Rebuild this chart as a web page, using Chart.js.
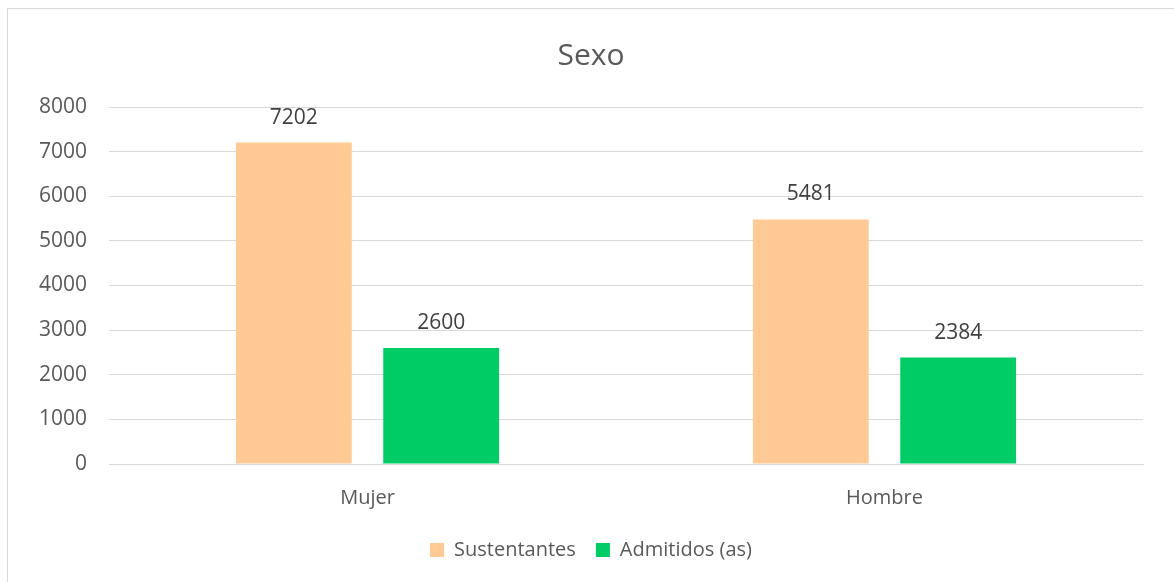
<!DOCTYPE html>
<html lang="es">
<head>
    <meta charset="UTF-8">
    <title>Sexo</title>
    <script src="https://cdn.jsdelivr.net/npm/chart.js"></script>
    <style>
        body {
            margin: 0;
            background: #fff;
            overflow: hidden;
            width: 1174px;
            height: 582px;
        }
        .frame {
            position: absolute;
            left: 7px;
            top: 8px;
            border-left: 1px solid #d9d9d9;
            border-top: 1px solid #d9d9d9;
            width: 1166px;
            height: 573px;
        }
    </style>
</head>
<body>
    <div class="frame">
        <canvas id="sexoChart" width="1166" height="573"></canvas>
    </div>
    <script>
        const categories = ['Mujer', 'Hombre'];
        const sustentantes = [7202, 5481];
        const admitidos = [2600, 2384];
        const yTicks = [0, 1000, 2000, 3000, 4000, 5000, 6000, 7000, 8000];

        const textColor = '#595959';
        const fontFamily = '"Open Sans", sans-serif';

        // value labels above each bar
        const barLabels = {
            id: 'barLabels',
            afterDatasetsDraw(chart) {
                const ctx = chart.ctx;
                ctx.save();
                ctx.font = '21px ' + fontFamily;
                ctx.fillStyle = '#404040';
                ctx.textAlign = 'center';
                ctx.textBaseline = 'middle';
                chart.data.datasets.forEach((ds, i) => {
                    chart.getDatasetMeta(i).data.forEach((bar, j) => {
                        ctx.fillText(ds.data[j], bar.x, bar.y - 25);
                    });
                });
                ctx.restore();
            }
        };

        new Chart(document.getElementById('sexoChart'), {
            type: 'bar',
            data: {
                labels: categories,
                datasets: [
                    {
                        label: 'Sustentantes',
                        data: sustentantes,
                        backgroundColor: '#ffca96',
                        categoryPercentage: 0.57,
                        barPercentage: 0.786
                    },
                    {
                        label: 'Admitidos (as)',
                        data: admitidos,
                        backgroundColor: '#00cc66',
                        categoryPercentage: 0.57,
                        barPercentage: 0.786
                    }
                ]
            },
            options: {
                responsive: false,
                animation: false,
                layout: {
                    padding: { left: 0, right: 0, top: 0, bottom: 12 }
                },
                plugins: {
                    title: {
                        display: true,
                        text: 'Sexo',
                        color: textColor,
                        font: { family: fontFamily, size: 30, weight: 'normal' },
                        padding: { top: 29, bottom: 33 }
                    },
                    legend: {
                        position: 'bottom',
                        labels: {
                            color: textColor,
                            font: { family: fontFamily, size: 20 },
                            boxWidth: 14,
                            boxHeight: 14,
                            padding: 20
                        }
                    },
                    tooltip: { enabled: false }
                },
                scales: {
                    x: {
                        grid: { display: false, drawTicks: false },
                        border: { display: true, color: '#d9d9d9', width: 1 },
                        ticks: {
                            color: textColor,
                            font: { family: fontFamily, size: 20 },
                            padding: 22
                        },
                        afterFit(scale) { scale.height = 56; }
                    },
                    y: {
                        min: 0,
                        max: 8000,
                        grid: { color: '#d9d9d9', lineWidth: 1, drawTicks: false },
                        border: { display: false },
                        afterBuildTicks(scale) {
                            scale.ticks = yTicks.map(v => ({ value: v }));
                        },
                        ticks: {
                            color: textColor,
                            font: { family: fontFamily, size: 21 },
                            padding: 22,
                            callback: v => String(v)
                        },
                        afterFit(scale) { scale.width = 101; }
                    },
                    // empty right gutter so the title and legend centre on the whole frame
                    yRight: {
                        position: 'right',
                        display: true,
                        grid: { display: false, drawTicks: false },
                        border: { display: false },
                        ticks: { display: false },
                        afterFit(scale) { scale.width = 31; }
                    }
                }
            },
            plugins: [barLabels]
        });
    </script>
</body>
</html>
